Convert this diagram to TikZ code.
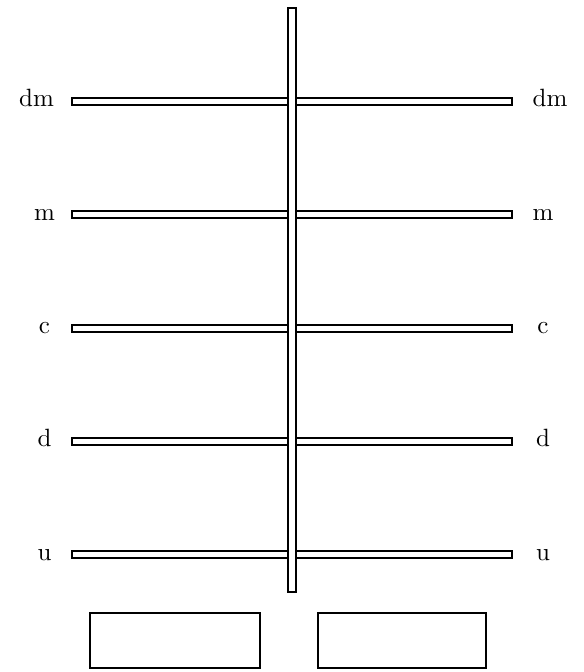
\documentclass[tikz,border=0pt]{standalone}
\begin{document}
\begin{tikzpicture}[x=0.4pt,y=-0.4pt,
  bar/.style={draw=black,fill=white,line width=0.8pt},
  lbl/.style={anchor=base,inner sep=0pt,font=\fontsize{10}{12}\selectfont}]
\useasboundingbox (0,0) rectangle (584,672);
% horizontal rods
\foreach \y/\t/\xl/\xr [count=\i] in {101.5/dm/36.5/550, 214.75/m/44.5/543, 328/c/44.5/543, 441.25/d/44.5/543, 554.5/u/44.5/543}{
  \draw[bar] (72,\y-3.5) rectangle (512,\y+3.5);
  \node[lbl] (L\i) at (\xl,\y+5.5) {\t};
  \node[lbl] (R\i) at (\xr,\y+5.5) {\t};
}
% vertical rod
\draw[bar] (288,8) rectangle (295.5,592);
% bottom boxes
\draw[bar] (90,612.5) rectangle (259.5,667.5);
\draw[bar] (317.5,612.5) rectangle (486,667.5);
\end{tikzpicture}
\end{document}
